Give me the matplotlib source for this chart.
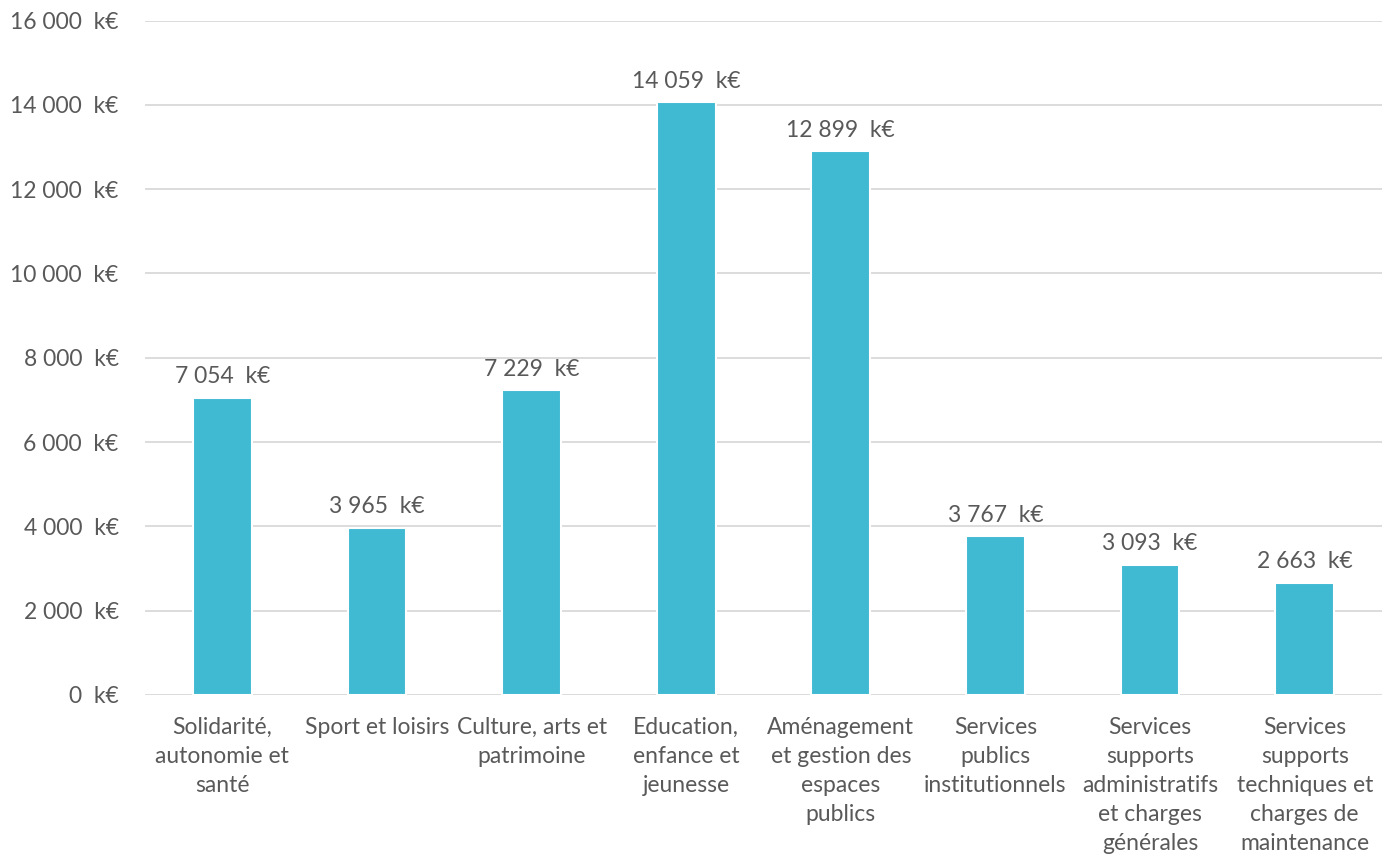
import matplotlib.pyplot as plt
from matplotlib.ticker import FuncFormatter

categories = [
    "Solidarité,\nautonomie et\nsanté",
    "Sport et loisirs",
    "Culture, arts et\npatrimoine",
    "Education,\nenfance et\njeunesse",
    "Aménagement\net gestion des\nespaces\npublics",
    "Services\npublics\ninstitutionnels",
    "Services\nsupports\nadministratifs\net charges\ngénérales",
    "Services\nsupports\ntechniques et\ncharges de\nmaintenance",
]
values = [7054, 3965, 7229, 14059, 12899, 3767, 3093, 2663]
y_ticks = [0, 2000, 4000, 6000, 8000, 10000, 12000, 14000, 16000]

bar_color = "#40B9D3"
text_color = "#595959"


def keur(v):
    return f"{v:,.0f}".replace(",", " ") + "  k€"


plt.rcParams["font.family"] = ["Lato", "DejaVu Sans"]

fig = plt.figure(figsize=(13.82, 8.61), dpi=100)
ax = fig.add_axes([0.105, 0.193, 0.895, 0.783])

x = range(len(values))
ax.bar(x, values, width=0.38, color=bar_color, edgecolor="white",
       linewidth=1.5, zorder=3)

for xi, v in zip(x, values):
    ax.text(xi, v + 250, keur(v), ha="center", va="bottom",
            fontsize=16.5, color=text_color)

ax.set_xlim(-0.5, len(values) - 0.5)
ax.set_ylim(0, 16000)
ax.set_yticks(y_ticks)
ax.yaxis.set_major_formatter(FuncFormatter(lambda v, p: keur(v)))
ax.set_xticks(list(x))
ax.set_xticklabels(categories, fontsize=16.5, color=text_color, linespacing=1.47)
ax.tick_params(axis="y", labelsize=16.5, labelcolor=text_color, length=0, pad=19)
ax.tick_params(axis="x", length=0, pad=16)

ax.grid(axis="y", color="#D9D9D9", linewidth=1.3, zorder=0)
for side in ["top", "right", "left", "bottom"]:
    ax.spines[side].set_visible(False)

fig.savefig("out.png", dpi=100, facecolor="white")
